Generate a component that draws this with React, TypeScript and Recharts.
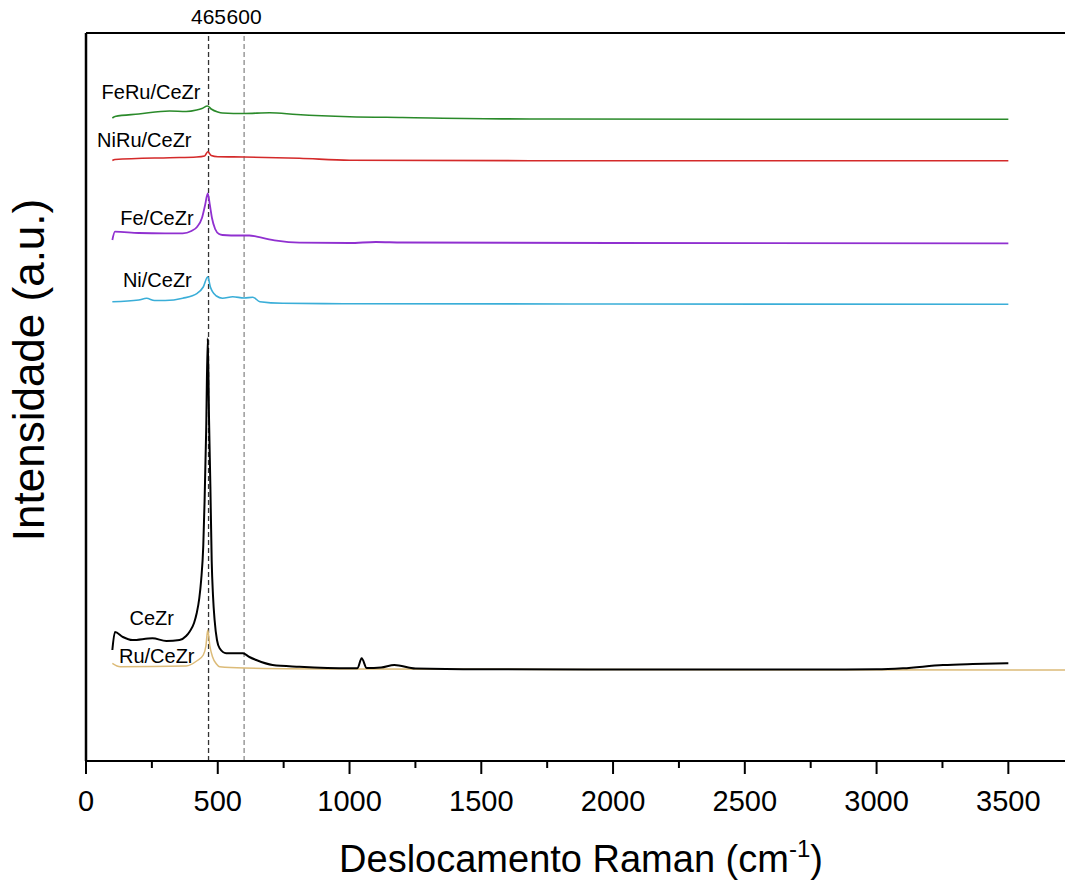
import React from 'react';
import { LineChart, Line, XAxis, YAxis, ReferenceLine, ReferenceDot } from 'recharts';

const FONT = '"Liberation Sans", Arial, Helvetica, sans-serif';

// Raman shift (cm-1), intensity (a.u., stacked offsets)
const feRuCeZr: [number, number][] = [
  [100, 643], [110, 644.5], [200, 647], [317, 650], [380, 649.5], [420, 651], [440, 652.5], [461, 655],
  [475, 652], [500, 649], [518, 648], [600, 647.5], [697, 648.3], [800, 646.5], [1000, 644.3], [1200, 643.5],
  [1684, 642], [2500, 641.8], [3500, 641.7],
];
const niRuCeZr: [number, number][] = [
  [100, 600.5], [110, 601.5], [317, 603.3], [420, 604], [450, 605], [462, 609.3], [475, 605.5], [500, 604.3],
  [600, 604], [810, 602.7], [1000, 600.8], [1684, 600.3], [3500, 600.3],
];
const feCeZr: [number, number][] = [
  [100, 521], [110, 529.3], [200, 528], [300, 527.7], [367, 527.7], [400, 530], [422, 534.3], [440, 543],
  [452, 556], [462, 567.7], [470, 556], [478, 543], [490, 532], [505, 527], [518, 526], [583, 525.5],
  [620, 525.5], [648, 524.3], [723, 520.3], [810, 518.3], [1000, 518], [1100, 519], [1200, 518.5],
  [2000, 518], [3500, 517.7],
];
const niCeZr: [number, number][] = [
  [100, 459.3], [200, 461], [230, 462.7], [260, 460.5], [300, 460.5], [367, 462.7], [422, 467.7], [445, 474],
  [462, 484.3], [472, 474], [480, 469.3], [495, 465], [518, 462.7], [557, 464.3], [600, 463], [633, 463.7],
  [660, 459.3], [746, 457.7], [1000, 457.3], [2000, 457], [3500, 456.7],
];
const ceZr: [number, number][] = [
  [100, 111], [110, 129], [140, 124], [176, 121], [252, 122.7], [305, 120], [355, 121], [380, 125],
  [393, 129.3], [410, 138], [420, 147.7], [430, 163], [437, 181], [445, 215], [450, 260], [456, 330],
  [462, 422.7], [467, 340], [472, 274.3], [477, 200], [482, 165], [488, 141], [497, 121], [507, 112.7],
  [532, 107.7], [595, 107.7], [620, 104], [646, 101], [708, 96], [810, 94.3], [1000, 92.7], [1030, 92.7],
  [1046, 102.7], [1065, 93], [1120, 93.5], [1170, 96], [1250, 92.5], [1500, 91.7], [2000, 91.5],
  [2800, 91.5], [3000, 91.7], [3100, 92.7], [3252, 96], [3365, 97], [3500, 97.7],
];
const ruCeZr: [number, number][] = [
  [100, 97.7], [130, 94.3], [380, 95], [420, 100], [445, 106], [455, 115], [462, 131], [470, 115],
  [480, 104.3], [495, 97], [507, 94.3], [600, 93], [1000, 92], [2000, 91.5], [3715, 91],
];

const seriesNames = ['Ru/CeZr', 'CeZr', 'Ni/CeZr', 'Fe/CeZr', 'NiRu/CeZr', 'FeRu/CeZr'];
const seriesData = [ruCeZr, ceZr, niCeZr, feCeZr, niRuCeZr, feRuCeZr];
const seriesColors = ['#dcbb78', '#000000', '#3aaed8', '#9030d0', '#d42a2a', '#2a8a2a'];
const seriesWidths = [1.5, 2, 1.6, 1.8, 1.6, 1.6];

// label anchor positions (data units) for the series names
const labelX = [125, 165, 140, 130, 42, 59];
const labelY = [105.3, 143, 481.3, 543, 621, 668.7];

const majorTicks = [0, 500, 1000, 1500, 2000, 2500, 3000, 3500];
const minorTicks = [250, 750, 1250, 1750, 2250, 2750, 3250];
const allTicks = [...majorTicks, ...minorTicks].sort((a, b) => a - b);

const markers = [465, 600];
const markerColors = ['#333333', '#8a8a8a'];

const XTick = (props: any) => {
  const { x, y, payload } = props;
  const major = majorTicks.includes(payload.value);
  return (
    <g>
      <line x1={x} x2={x} y1={y} y2={y + (major ? 13 : 7)} stroke="#000" strokeWidth={2} />
      {major && (
        <text x={x} y={y + 50} textAnchor="middle" fontSize={29} fontFamily={FONT} fill="#000">
          {payload.value}
        </text>
      )}
    </g>
  );
};

const Titles = () => (
  <g>
    <text x={581} y={872} textAnchor="middle" fontSize={38} fontFamily={FONT} fill="#000">
      Deslocamento Raman (cm
      <tspan fontSize={24} dy={-15}>-1</tspan>
      <tspan dy={15}>)</tspan>
    </text>
    <text
      x={0}
      y={0}
      transform="translate(44, 370) rotate(-90)"
      textAnchor="middle"
      fontSize={44}
      fontFamily={FONT}
      fill="#000"
    >
      Intensidade (a.u.)
    </text>
  </g>
);

export default function App() {
  return (
    <div style={{ position: 'absolute', left: 0, top: 0, width: 1065, height: 881, background: '#fff' }}>
      <LineChart width={1065} height={881} margin={{ top: 33, right: 0, bottom: 0, left: 86 }}>
        <XAxis
          type="number"
          dataKey="x"
          domain={[0, 3715]}
          allowDataOverflow
          ticks={allTicks}
          interval={0}
          tickSize={0}
          tickMargin={0}
          tickLine={false}
          tick={<XTick />}
          height={120}
          axisLine={{ stroke: '#000', strokeWidth: 2 }}
          label={{ content: () => <Titles /> }}
        />
        <YAxis type="number" dataKey="y" domain={[0, 728]} allowDataOverflow hide />
        <ReferenceLine y={728} stroke="#000" strokeWidth={2} ifOverflow="visible" />
        <ReferenceLine x={0} stroke="#000" strokeWidth={2.5} ifOverflow="visible" />
        {markers.map((m, i) => (
          <ReferenceLine
            key={m}
            x={m}
            stroke={markerColors[i]}
            strokeWidth={1.3}
            strokeDasharray="5 3"
            label={{ value: String(m), position: 'top', offset: 9, fontSize: 21, fill: '#000', fontFamily: FONT }}
          />
        ))}
        {seriesData.map((d, i) => (
          <Line
            key={seriesNames[i]}
            data={d.map(([x, y]) => ({ x, y }))}
            dataKey="y"
            type="monotone"
            stroke={seriesColors[i]}
            strokeWidth={seriesWidths[i]}
            dot={false}
            activeDot={false}
            isAnimationActive={false}
            name={seriesNames[i]}
          />
        ))}
        {seriesNames.map((n, i) => (
          <ReferenceDot
            key={'lbl' + n}
            x={labelX[i]}
            y={labelY[i]}
            r={0}
            fill="none"
            stroke="none"
            label={{ value: n, position: 'right', offset: 0, fontSize: 20, fill: '#000', fontFamily: FONT }}
          />
        ))}
      </LineChart>
    </div>
  );
}
